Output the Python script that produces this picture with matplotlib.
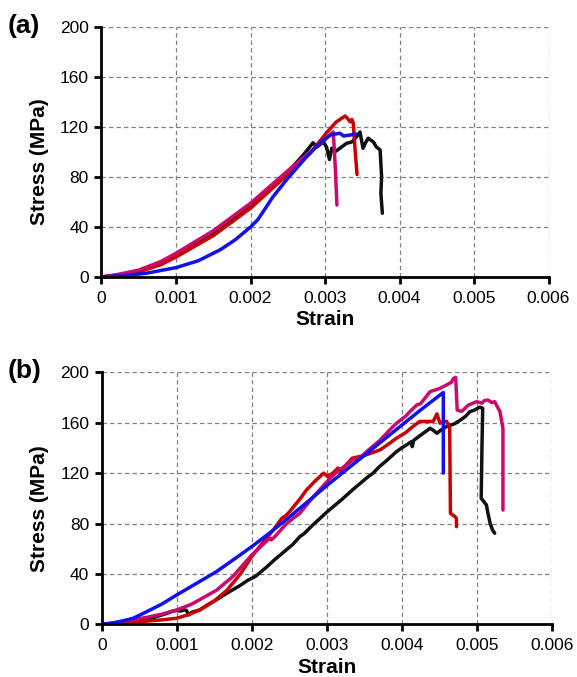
import matplotlib
matplotlib.use("Agg")
import matplotlib.pyplot as plt
import numpy as np

plt.rcParams['font.family'] = ['Liberation Sans', 'DejaVu Sans']

# ---------------- data (strain in units of 1e-3, stress in MPa) ----------------
# panel (a)
a_black_x = [0, 0.2, 0.5, 0.8, 1.0, 1.5, 2.0, 2.5, 2.7, 2.84, 2.89, 2.98, 3.02, 3.06, 3.09, 3.13, 3.2, 3.29, 3.36, 3.42, 3.47, 3.51, 3.55, 3.58, 3.65, 3.69, 3.74, 3.76, 3.75, 3.77]
a_black_y = [0, 1.5, 4.5, 10.5, 16.5, 34, 56, 84, 97, 107.4, 104, 108, 104, 94, 103, 100, 103, 107, 108, 112, 116, 103, 108, 111, 108, 104, 101.6, 80, 67, 51]

a_red_x = [0, 0.2, 0.5, 0.8, 1.0, 1.5, 2.0, 2.5, 2.8, 3.03, 3.15, 3.27, 3.3, 3.34, 3.36, 3.38, 3.40, 3.43]
a_red_y = [0, 1.5, 4.0, 10, 16, 33, 55, 82, 99, 116, 124, 128.8, 127, 124, 126, 123, 105, 82]

a_magenta_x = [0, 0.2, 0.5, 0.8, 1.0, 1.5, 2.0, 2.5, 2.8, 3.0, 3.11, 3.12, 3.14, 3.16]
a_magenta_y = [0, 1.8, 5.5, 12.5, 19, 37, 59, 85, 100, 110, 116, 107, 85, 57.6]

a_blue_x = [0, 0.3, 0.6, 1.0, 1.3, 1.6, 1.8, 2.0, 2.1, 2.3, 2.5, 2.75, 2.93, 3.07, 3.2, 3.25, 3.34, 3.42]
a_blue_y = [0, 1.0, 3.0, 7.5, 13, 22, 30, 40, 46, 64, 79, 96, 107, 113.6, 115, 112.8, 113.6, 114.4]

# panel (b)
b_black_x = [0, 0.1, 0.2, 0.3, 0.42, 0.55, 0.7, 0.87, 0.95, 1.0, 1.05, 1.1, 1.13, 1.16, 1.2, 1.31, 1.4, 1.53, 1.65,
             1.75, 1.85, 1.95, 2.0, 2.05, 2.1, 2.2, 2.3, 2.4, 2.5, 2.55, 2.64, 2.7, 2.8, 2.91, 3.0, 3.1, 3.2, 3.27,
             3.35, 3.45, 3.55, 3.62, 3.7, 3.8, 3.93, 4.0, 4.08, 4.13, 4.14, 4.16, 4.25, 4.38, 4.42, 4.47, 4.52, 4.6,
             4.7, 4.78, 4.85, 4.91, 4.97, 5.04, 5.08, 5.07, 5.06, 5.1, 5.13, 5.15, 5.18, 5.21, 5.24]
b_black_y = [0, 0.5, 1, 1.5, 2, 3.5, 5.5, 8.7, 10.5, 11, 10.5, 11.5, 11, 7.5, 9.5, 11.5, 15, 19.5, 24,
             27.5, 31, 35, 36.5, 38, 40.5, 45.5, 51, 56, 61, 63.5, 69.5, 72, 78, 84, 89, 94, 99, 102.7,
             107, 112, 117, 120, 125, 130, 137, 140, 143, 145, 141, 146, 150, 155.6, 154, 151.6, 154, 157,
             159, 162, 165, 168.8, 170, 172.3, 171.5, 140, 100, 97, 94.7, 88, 80, 75, 72.3]

b_red_x = [0, 0.2, 0.5, 0.8, 1.0, 1.15, 1.31, 1.5, 1.67, 1.85, 2.0, 2.15, 2.29, 2.4, 2.45, 2.5, 2.56, 2.65, 2.73,
           2.85, 2.96, 3.0, 3.02, 3.1, 3.15, 3.18, 3.25, 3.34, 3.5, 3.6, 3.71, 3.8, 3.93, 4.05, 4.15, 4.24, 4.33,
           4.42, 4.47, 4.51, 4.56, 4.6, 4.64, 4.645, 4.65, 4.7, 4.73, 4.73]
b_red_y = [0, 0.8, 2, 3.5, 4.8, 7.5, 11.4, 18.5, 27, 40, 53.7, 65, 75, 84, 86, 89, 93.4, 100, 106.6,
           114, 120, 118, 117, 121, 124, 121, 126, 131.8, 134, 136, 138.4, 142, 147.7, 152, 157, 161, 161,
           161, 167, 159.6, 161, 161, 155.6, 120, 88, 86, 84, 77.5]

b_magenta_x = [0, 0.2, 0.4, 0.6, 0.8, 1.0, 1.2, 1.53, 1.75, 2.0, 2.24, 2.26, 2.3, 2.45, 2.55, 2.64, 2.82, 3.0,
               3.15, 3.27, 3.35, 3.44, 3.55, 3.71, 3.82, 3.93, 4.05, 4.11, 4.2, 4.25, 4.38, 4.5, 4.6, 4.66, 4.69,
               4.72, 4.74, 4.8, 4.89, 5.0, 5.07, 5.1, 5.15, 5.2, 5.24, 5.31, 5.35, 5.35]
b_magenta_y = [0, 1.5, 3.5, 5.5, 8, 11.4, 16, 27, 38, 55, 68.3, 67, 69, 79, 84, 88, 101, 113,
               122, 126.5, 130.5, 131.8, 138, 146, 153, 159.6, 165, 168.8, 174, 175, 184.7, 187, 190, 192, 195,
               196, 170, 169, 174, 176.7, 175.5, 177.5, 178, 176, 176.7, 168.8, 155.6, 90.7]

b_blue_x = [0, 0.15, 0.3, 0.42, 0.6, 0.8, 1.0, 1.25, 1.53, 1.75, 2.0, 2.25, 2.5, 2.75, 3.0, 3.27, 3.5, 3.75, 4.0,
            4.25, 4.555, 4.555]
b_blue_y = [0, 1, 3, 4.8, 10, 16, 23.3, 32, 41.8, 51, 61.6, 73, 85, 97.5, 110, 123, 134, 146, 158,
            170, 184, 120]

x_ticks = [0, 0.001, 0.002, 0.003, 0.004, 0.005, 0.006]
x_tick_labels = ['0', '0.001', '0.002', '0.003', '0.004', '0.005', '0.006']
y_ticks = [0, 40, 80, 120, 160, 200]
y_tick_labels = ['0', '40', '80', '120', '160', '200']

C_BLACK = '#111111'
C_RED = '#cc0000'
C_MAGENTA = '#cc0a6e'
C_BLUE = '#1010f0'

panels = [
    ('(a)', [(a_black_x, a_black_y, C_BLACK), (a_red_x, a_red_y, C_RED),
             (a_magenta_x, a_magenta_y, C_MAGENTA), (a_blue_x, a_blue_y, C_BLUE)]),
    ('(b)', [(b_black_x, b_black_y, C_BLACK), (b_red_x, b_red_y, C_RED),
             (b_magenta_x, b_magenta_y, C_MAGENTA), (b_blue_x, b_blue_y, C_BLUE)]),
]

W, H = 577, 677
fig = plt.figure(figsize=(W / 100, H / 100), dpi=100)

# axes rectangles in pixels: left, top, right, bottom
rects = [(101.5, 27, 548.5, 277), (101.7, 372.3, 551.7, 624.3)]

for (label, series), (l, t, r, b) in zip(panels, rects):
    ax = fig.add_axes([l / W, (H - b) / H, (r - l) / W, (b - t) / H])
    for xs, ys, c in series:
        ax.plot(np.array(xs) * 1e-3, ys, color=c, lw=2.5, solid_joinstyle='round',
                solid_capstyle='round', zorder=3)
    ax.set_xlim(0, 0.006)
    ax.set_ylim(0, 200)
    ax.set_xticks(x_ticks)
    ax.set_xticklabels(x_tick_labels)
    ax.set_yticks(y_ticks)
    ax.set_yticklabels(y_tick_labels)
    ax.grid(True, color='#808080', ls=(0, (3.5, 2.5)), lw=0.9, zorder=1)
    for s in ['top', 'right']:
        ax.spines[s].set_visible(False)
    for s in ['left', 'bottom']:
        ax.spines[s].set_linewidth(2)
        ax.spines[s].set_color('black')
        ax.spines[s].set_zorder(4)
    ax.tick_params(direction='out', length=5, width=2, labelsize=12.5, pad=4)
    ax.tick_params(axis='x', pad=5)
    ax.set_xlabel('Strain', fontsize=15, fontweight='bold')
    ax.set_ylabel('Stress (MPa)', fontsize=15, fontweight='bold')
    ax.xaxis.set_label_coords(0.5, -0.17)
    ax.yaxis.set_label_coords(-0.138, 0.46)
    ax.xaxis.label.set_va('center')
    ax.yaxis.label.set_va('center')
    fig.text(8 / W, 1 - (t - 13) / H, label, fontsize=19, fontweight='bold', ha='left', va='top')

fig.savefig('out.png', dpi=100)
